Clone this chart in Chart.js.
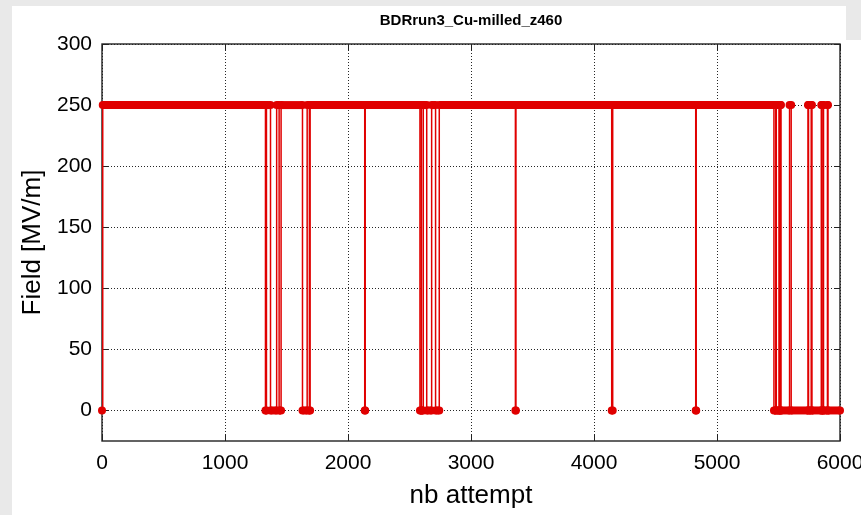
<!DOCTYPE html>
<html>
<head>
<meta charset="utf-8">
<script src="https://cdn.jsdelivr.net/npm/chart.js@4.4.1/dist/chart.umd.min.js"></script>
<style>
  html, body { margin: 0; padding: 0; background: #e9e9e9; }
  #wrap { position: relative; width: 861px; height: 515px; }
</style>
</head>
<body>
<div id="wrap"><canvas id="chart" width="861" height="515"></canvas></div>
<script>
// attempt number / field level (250 = running, 0 = breakdown)
const attempts = [
  0, 6,
  1329, 1329, 1337, 1337,
  1370, 1370, 1420, 1420,
  1440, 1440, 1456, 1456,
  1630, 1630, 1668, 1668,
  1686, 1686, 1692, 1692,
  2136, 2136, 2140, 2140,
  2585, 2585, 2595, 2595,
  2597, 2597, 2612, 2612,
  2640, 2640, 2680, 2680,
  2712, 2712, 2742, 2742,
  3361, 3361, 3365, 3365,
  4144, 4144, 4152, 4152,
  4827, 4827, 4831, 4831,
  5463, 5463, 5478, 5478,
  5482, 5482, 5505, 5505,
  5507, 5507, 5516, 5516,
  5520, 5520, 5590, 5590,
  5603, 5603, 5740, 5740,
  5744, 5744, 5766, 5766,
  5772, 5772, 5848, 5848,
  5852, 5852, 5862, 5862,
  5866, 5866, 5898, 5898,
  5902, 5902, 6000
];
const fieldMV = [
  0, 250,
  250, 0, 0, 250,
  250, 0, 0, 250,
  250, 0, 0, 250,
  250, 0, 0, 250,
  250, 0, 0, 250,
  250, 0, 0, 250,
  250, 0, 0, 250,
  250, 0, 0, 250,
  250, 0, 0, 250,
  250, 0, 0, 250,
  250, 0, 0, 250,
  250, 0, 0, 250,
  250, 0, 0, 250,
  250, 0, 0, 250,
  250, 0, 0, 250,
  250, 0, 0, 250,
  250, 0, 0, 250,
  250, 0, 0, 250,
  250, 0, 0, 250,
  250, 0, 0, 250,
  250, 0, 0, 250,
  250, 0, 0, 250,
  250, 0, 0
];
const xTicks = [0, 1000, 2000, 3000, 4000, 5000, 6000];
const yTicks = [0, 50, 100, 150, 200, 250, 300];

const RED = '#e00000';
const FONT = "'Liberation Sans', Arial, sans-serif";

const points = attempts.map((a, i) => ({ x: a, y: fieldMV[i] }));

const background = {
  id: 'background',
  beforeDraw(chart) {
    const ctx = chart.ctx;
    ctx.save();
    ctx.fillStyle = '#e9e9e9';
    ctx.fillRect(0, 0, chart.width, chart.height);
    ctx.fillStyle = '#ffffff';
    ctx.fillRect(12, 6, chart.width - 12, chart.height - 6);
    ctx.fillStyle = '#e9e9e9';
    ctx.fillRect(846, 0, chart.width - 846, 40);
    ctx.restore();
  }
};

const frame = {
  id: 'frame',
  beforeDatasetsDraw(chart) {
    const { ctx, chartArea: a, scales } = chart;
    ctx.save();
    ctx.strokeStyle = '#222';
    ctx.lineWidth = 1;
    ctx.beginPath();
    scales.x.ticks.forEach(t => {
      const px = Math.round(scales.x.getPixelForValue(t.value)) + 0.5;
      ctx.moveTo(px, a.bottom); ctx.lineTo(px, a.bottom - 6);
      ctx.moveTo(px, a.top); ctx.lineTo(px, a.top + 6);
    });
    scales.y.ticks.forEach(t => {
      const py = Math.round(scales.y.getPixelForValue(t.value)) + 0.5;
      ctx.moveTo(a.left, py); ctx.lineTo(a.left + 6, py);
      ctx.moveTo(a.right, py); ctx.lineTo(a.right - 6, py);
    });
    ctx.stroke();
    ctx.lineWidth = 1.4;
    ctx.strokeRect(a.left, a.top, a.right - a.left, a.bottom - a.top);
    ctx.restore();
  }
};

new Chart(document.getElementById('chart'), {
  type: 'line',
  data: {
    datasets: [{
      data: points,
      borderColor: RED,
      backgroundColor: RED,
      borderWidth: 1.5,
      pointRadius: 4,
      pointBorderWidth: 0,
      pointBackgroundColor: RED,
      tension: 0,
      clip: false,
      segment: {
        borderWidth: c => (c.p0.parsed.y === c.p1.parsed.y ? 8 : 1.5)
      }
    }]
  },
  options: {
    responsive: false,
    animation: false,
    devicePixelRatio: 1,
    layout: { padding: { left: 0, right: 21, top: 0, bottom: 0 } },
    plugins: {
      legend: { display: false },
      tooltip: { enabled: false },
      title: {
        display: true,
        fullSize: false,
        text: 'BDRrun3_Cu-milled_z460',
        color: '#000',
        font: { family: FONT, size: 15, weight: 'bold' },
        padding: { top: 12, bottom: 14 }
      }
    },
    scales: {
      x: {
        type: 'linear',
        min: 0,
        max: 6000,
        afterBuildTicks: s => { s.ticks = xTicks.map(v => ({ value: v })); },
        afterFit: s => { s.height = 74; s.paddingLeft = 0; s.paddingRight = 0; },
        ticks: {
          color: '#000',
          padding: 10,
          maxRotation: 0,
          font: { family: FONT, size: 21 },
          callback: v => String(v)
        },
        grid: { color: 'rgba(0,0,0,0.85)', lineWidth: 1, drawTicks: false },
        border: { display: false, dash: [1, 2] },
        title: {
          display: true,
          text: 'nb attempt',
          color: '#000',
          font: { family: FONT, size: 26 },
          padding: { top: 0, bottom: 4 }
        }
      },
      y: {
        type: 'linear',
        min: -25,
        max: 300,
        afterBuildTicks: s => { s.ticks = yTicks.map(v => ({ value: v })); },
        afterFit: s => { s.width = 102; s.paddingTop = 0; s.paddingBottom = 0; },
        ticks: {
          color: '#000',
          padding: 10,
          font: { family: FONT, size: 21 },
          callback: v => String(v)
        },
        grid: { color: 'rgba(0,0,0,0.85)', lineWidth: 1, drawTicks: false },
        border: { display: false, dash: [1, 2] },
        title: {
          display: true,
          text: 'Field [MV/m]',
          color: '#000',
          font: { family: FONT, size: 26 },
          padding: { top: 17, bottom: 0 }
        }
      }
    }
  },
  plugins: [background, frame]
});
</script>
</body>
</html>
